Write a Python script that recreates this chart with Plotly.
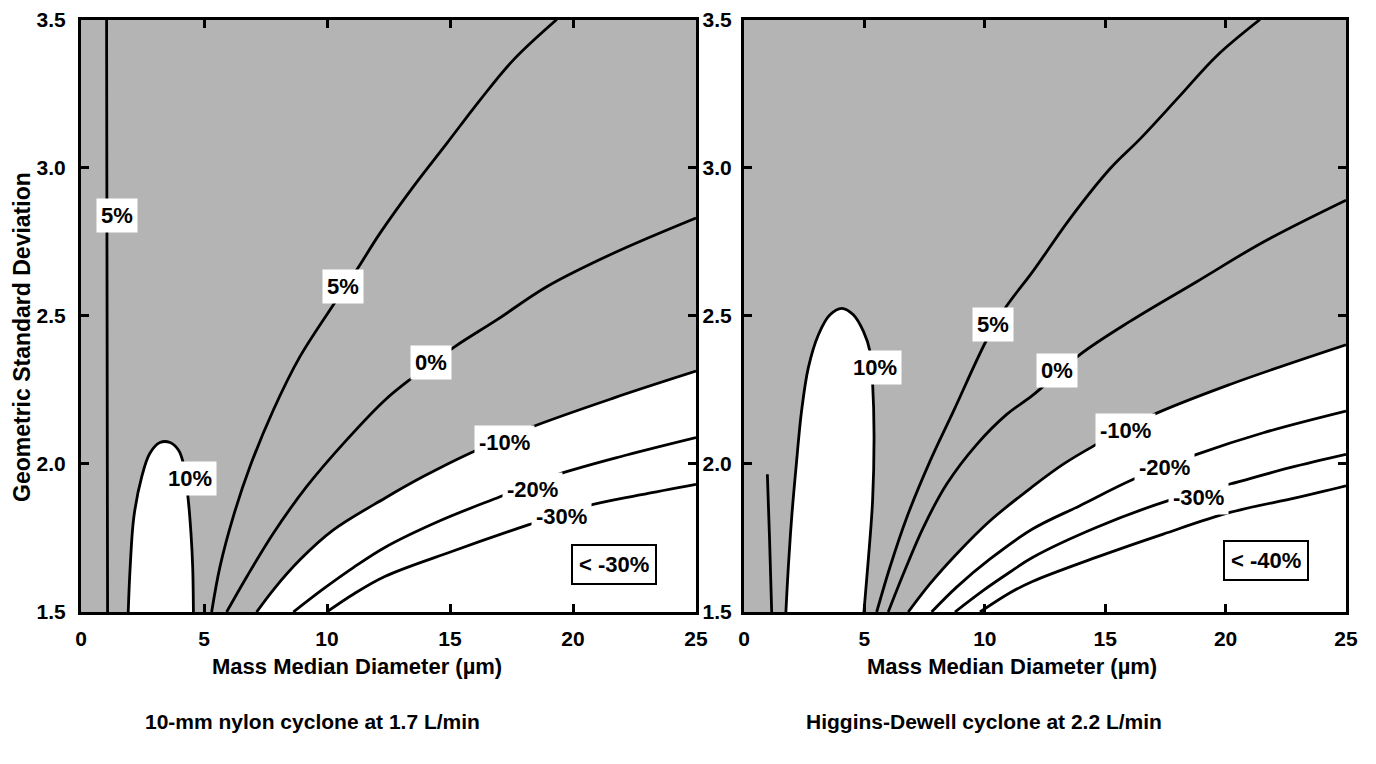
import plotly.graph_objects as go

# page offset (default body margin) and figure size
OFF = 8
FW, FH = 1368, 756
X_MIN, X_MAX = 0.0, 25.0
Y_MIN, Y_MAX = 1.5, 3.5

# ---------------- Left panel: 10-mm nylon cyclone at 1.7 L/min ----------------
L_p5v_x = [1.04, 1.06, 1.08]
L_p5v_y = [3.50, 2.50, 1.50]
L_p10_x = [1.92, 2.00, 2.15, 2.47, 2.80, 3.21, 3.62, 3.96, 4.16, 4.36, 4.47, 4.54, 4.57]
L_p10_y = [1.50, 1.653, 1.822, 1.957, 2.036, 2.072, 2.072, 2.047, 2.002, 1.878, 1.766, 1.653, 1.50]
L_p5_x = [5.31, 5.65, 6.19, 6.87, 7.82, 8.90, 10.39, 11.21, 12.15, 13.51, 14.87, 16.22, 17.57, 19.34]
L_p5_y = [1.50, 1.653, 1.822, 1.991, 2.182, 2.362, 2.553, 2.655, 2.778, 2.936, 3.082, 3.228, 3.363, 3.50]
L_z0_x = [5.92, 6.74, 7.82, 9.17, 10.80, 12.35, 13.44, 15.20, 16.90, 18.93, 21.64, 25.0]
L_z0_y = [1.50, 1.619, 1.766, 1.923, 2.081, 2.215, 2.289, 2.396, 2.486, 2.598, 2.711, 2.83]
L_m10_x = [7.14, 7.82, 8.90, 10.26, 12.35, 13.91, 15.81, 18.18, 21.64, 25.0]
L_m10_y = [1.50, 1.575, 1.676, 1.777, 1.884, 1.957, 2.036, 2.120, 2.222, 2.313]
L_m20_x = [8.63, 9.85, 11.07, 12.35, 14.59, 17.03, 19.34, 22.18, 25.0]
L_m20_y = [1.50, 1.578, 1.650, 1.718, 1.808, 1.889, 1.963, 2.030, 2.089]
L_m30_x = [9.99, 11.07, 12.35, 15.13, 18.18, 20.49, 22.72, 25.0]
L_m30_y = [1.50, 1.560, 1.620, 1.706, 1.794, 1.856, 1.895, 1.931]

L_label_text = ["5%", "5%", "0%", "10%", "-10%", "-20%", "-30%"]
L_label_x = [1.45, 10.63, 14.21, 4.43, 17.20, 18.37, 19.53]
L_label_y = [2.837, 2.60, 2.342, 1.949, 2.072, 1.912, 1.823]
L_box_text = "< -30%"
L_box_x, L_box_y = 21.65, 1.662

# ---------------- Right panel: Higgins-Dewell cyclone at 2.2 L/min ----------------
R_spike_x = [1.15, 1.06, 0.97]
R_spike_y = [1.50, 1.75, 1.965]
R_p10_x = [1.74, 1.84, 1.98, 2.16, 2.39, 2.67, 3.09, 3.57, 4.06, 4.54, 4.96, 5.23, 5.34, 5.40, 5.34, 5.16, 4.98]
R_p10_y = [1.50, 1.651, 1.819, 1.987, 2.178, 2.324, 2.436, 2.503, 2.525, 2.503, 2.447, 2.380, 2.273, 2.10, 1.876, 1.674, 1.50]
R_p5_x = [5.51, 6.06, 6.76, 7.73, 8.70, 10.08, 10.89, 11.98, 13.54, 15.20, 16.45, 18.11, 19.63, 21.43]
R_p5_y = [1.50, 1.651, 1.819, 2.010, 2.178, 2.419, 2.531, 2.648, 2.828, 2.996, 3.097, 3.243, 3.377, 3.50]
R_z0_x = [5.99, 6.62, 7.45, 8.42, 9.67, 10.91, 11.98, 13.95, 16.03, 18.80, 21.57, 25.0]
R_z0_y = [1.50, 1.629, 1.786, 1.932, 2.066, 2.167, 2.231, 2.369, 2.481, 2.615, 2.749, 2.89]
R_m10_x = [6.82, 7.72, 8.83, 10.22, 11.98, 13.26, 14.51, 16.86, 20.18, 25.0]
R_m10_y = [1.50, 1.595, 1.696, 1.808, 1.923, 1.999, 2.060, 2.161, 2.268, 2.402]
R_m20_x = [7.79, 8.83, 10.22, 11.98, 13.95, 16.17, 18.80, 21.57, 25.0]
R_m20_y = [1.50, 1.584, 1.679, 1.780, 1.859, 1.948, 2.032, 2.105, 2.178]
R_m30_x = [8.76, 9.94, 11.05, 11.98, 14.65, 17.62, 20.18, 22.67, 25.0]
R_m30_y = [1.50, 1.573, 1.635, 1.684, 1.786, 1.876, 1.932, 1.987, 2.032]
R_m40_x = [9.80, 11.05, 11.98, 14.65, 17.41, 20.18, 22.95, 25.0]
R_m40_y = [1.50, 1.565, 1.603, 1.685, 1.763, 1.836, 1.886, 1.926]

R_label_text = ["10%", "5%", "0%", "-10%", "-20%", "-30%"]
R_label_x = [5.44, 10.32, 12.99, 15.86, 17.48, 18.87]
R_label_y = [2.326, 2.469, 2.314, 2.111, 1.988, 1.887]
R_box_text = "< -40%"
R_box_x, R_box_y = 21.66, 1.673

TICK_X = [0, 5, 10, 15, 20, 25]
TICK_Y = [1.5, 2.0, 2.5, 3.0, 3.5]
TICK_Y_TEXT = ["1.5", "2.0", "2.5", "3.0", "3.5"]

X_TITLE = "Mass Median Diameter (µm)"
Y_TITLE = "Geometric Standard Deviation"
TITLE_LEFT = "10-mm nylon cyclone at 1.7 L/min"
TITLE_RIGHT = "Higgins-Dewell cyclone at 2.2 L/min"

# ---------------- style ----------------
FONT = "Liberation Sans"
GRAY = "rgb(180,180,180)"
LW = 2.8


def px(xp):
    return (xp - OFF) / FW


def py(yp):
    return 1 - (yp - OFF) / FH


fig = go.Figure()


def add_panel(xa, ya, white_below, ovals, lines):
    bx, by = white_below
    fig.add_trace(go.Scatter(
        x=list(bx) + [X_MAX, bx[0]], y=list(by) + [Y_MIN, Y_MIN],
        fill="toself", fillcolor="white", mode="none",
        xaxis=xa, yaxis=ya, showlegend=False, hoverinfo="skip"))
    for ox, oy in ovals:
        fig.add_trace(go.Scatter(
            x=list(ox) + [ox[0]], y=list(oy) + [oy[0]],
            fill="toself", fillcolor="white", mode="none",
            xaxis=xa, yaxis=ya, showlegend=False, hoverinfo="skip"))
    for lx, ly in lines:
        fig.add_trace(go.Scatter(
            x=lx, y=ly, mode="lines",
            line=dict(color="black", width=LW, shape="spline", smoothing=1.0),
            xaxis=xa, yaxis=ya, showlegend=False, hoverinfo="skip"))


add_panel("x", "y", (L_m10_x, L_m10_y), [(L_p10_x, L_p10_y)],
          [(L_p5v_x, L_p5v_y), (L_p10_x, L_p10_y), (L_p5_x, L_p5_y), (L_z0_x, L_z0_y),
           (L_m10_x, L_m10_y), (L_m20_x, L_m20_y), (L_m30_x, L_m30_y)])
add_panel("x2", "y2", (R_m10_x, R_m10_y), [(R_p10_x, R_p10_y)],
          [(R_spike_x, R_spike_y), (R_p10_x, R_p10_y), (R_p5_x, R_p5_y), (R_z0_x, R_z0_y),
           (R_m10_x, R_m10_y), (R_m20_x, R_m20_y), (R_m30_x, R_m30_y), (R_m40_x, R_m40_y)])

annotations = []
lab_font = dict(family=FONT, size=22, color="black", weight="bold")
for t, x, y in zip(L_label_text, L_label_x, L_label_y):
    annotations.append(dict(x=x, y=y, xref="x", yref="y", text=t, showarrow=False,
                            font=lab_font, bgcolor="white", borderpad=4))
for t, x, y in zip(R_label_text, R_label_x, R_label_y):
    annotations.append(dict(x=x, y=y, xref="x2", yref="y2", text=t, showarrow=False,
                            font=lab_font, bgcolor="white", borderpad=4))
annotations.append(dict(x=L_box_x, y=L_box_y, xref="x", yref="y", text=L_box_text, showarrow=False,
                        font=lab_font, bgcolor="white", bordercolor="black", borderwidth=2, borderpad=6))
annotations.append(dict(x=R_box_x, y=R_box_y, xref="x2", yref="y2", text=R_box_text, showarrow=False,
                        font=lab_font, bgcolor="white", bordercolor="black", borderwidth=2, borderpad=6))

title_font = dict(family=FONT, size=22, color="black", weight="bold")
annotations += [
    dict(x=px(357), y=py(666), xref="paper", yref="paper", text=X_TITLE, showarrow=False,
         font=title_font, xanchor="center", yanchor="middle"),
    dict(x=px(1012), y=py(666), xref="paper", yref="paper", text=X_TITLE, showarrow=False,
         font=title_font, xanchor="center", yanchor="middle"),
    dict(x=px(22), y=py(337), xref="paper", yref="paper", text=Y_TITLE, showarrow=False,
         font=dict(family=FONT, size=23, color="black", weight="bold"),
         textangle=-90, xanchor="center", yanchor="middle"),
    dict(x=px(312), y=py(721), xref="paper", yref="paper", text=TITLE_LEFT, showarrow=False,
         font=dict(family=FONT, size=21, color="black", weight="bold"), xanchor="center", yanchor="middle"),
    dict(x=px(984), y=py(721), xref="paper", yref="paper", text=TITLE_RIGHT, showarrow=False,
         font=dict(family=FONT, size=21, color="black", weight="bold"), xanchor="center", yanchor="middle"),
]

tick_font = dict(family=FONT, size=21, color="black", weight="bold")
ax_common = dict(showgrid=False, zeroline=False, showline=True, linecolor="black", linewidth=3,
                 mirror="ticks", ticks="inside", ticklen=8, tickwidth=2.5, tickcolor="black",
                 tickfont=tick_font, automargin=False, ticklabeloverflow="allow")

fig.update_layout(
    width=FW, height=FH,
    margin=dict(l=0, r=0, t=0, b=0, pad=0),
    paper_bgcolor="white", plot_bgcolor=GRAY,
    xaxis=dict(domain=[px(81), px(696)], range=[X_MIN, X_MAX], anchor="y",
               tickvals=TICK_X, ticklabelstandoff=6, **ax_common),
    yaxis=dict(domain=[py(612), py(19.5)], range=[Y_MIN, Y_MAX], anchor="x",
               tickvals=TICK_Y, ticktext=TICK_Y_TEXT, ticklabelstandoff=8, **ax_common),
    xaxis2=dict(domain=[px(744), px(1346)], range=[X_MIN, X_MAX], anchor="y2",
                tickvals=TICK_X, ticklabelstandoff=6, **ax_common),
    yaxis2=dict(domain=[py(612), py(19.5)], range=[Y_MIN, Y_MAX], anchor="x2",
                tickvals=TICK_Y, ticktext=TICK_Y_TEXT, ticklabelstandoff=5, **ax_common),
    annotations=annotations,
)

fig.write_html("out.html")
